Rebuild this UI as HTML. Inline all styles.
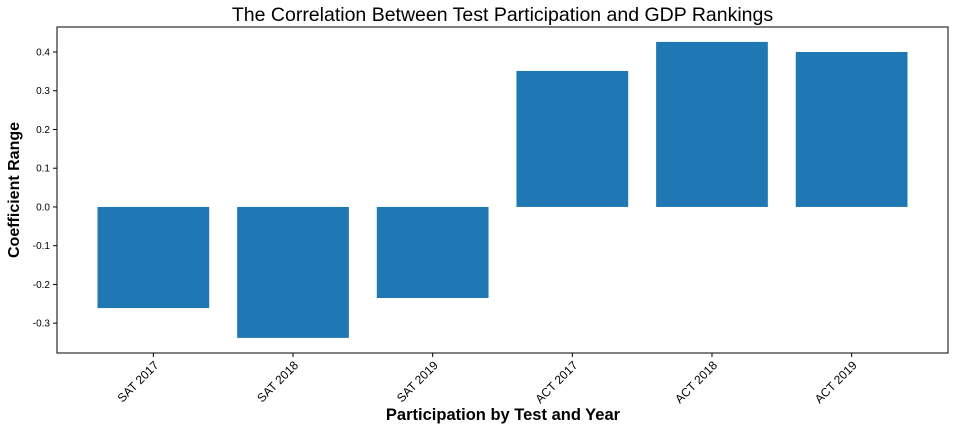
<!DOCTYPE html>
<html><head><meta charset="utf-8"><style>
body{margin:0;background:#fff;}
svg{display:block;font-family:"Liberation Sans","DejaVu Sans",sans-serif;}
</style></head><body>
<svg id="chart" width="956" height="430"></svg>
<script>
const categories=["SAT 2017","SAT 2018","SAT 2019","ACT 2017","ACT 2018","ACT 2019"];
const values=[-0.261,-0.338,-0.235,0.351,0.426,0.400];
const yTicks=[-0.3,-0.2,-0.1,0.0,0.1,0.2,0.3,0.4];
const NS="http://www.w3.org/2000/svg";
const svg=document.getElementById('chart');
const L=57,R=948,T=27,B=353;
const yMin=-0.377,yMax=0.4645,xMin=-0.69,xMax=5.69;
const ys=v=>B-(v-yMin)/(yMax-yMin)*(B-T);
const xs=i=>L+(i-xMin)/(xMax-xMin)*(R-L);
function mk(tag,attrs,parent){const e=document.createElementNS(NS,tag);for(const k in attrs)e.setAttribute(k,attrs[k]);(parent||svg).appendChild(e);return e;}
const bw=(xs(0.8)-xs(0));
values.forEach((v,i)=>{
 const y0=ys(0),y1=ys(v);
 const r=mk('rect',{x:xs(i)-bw/2,y:Math.min(y0,y1),width:bw,height:Math.abs(y1-y0),fill:'#1f77b4'});
 
 
});
mk('rect',{x:L,y:T,width:R-L,height:B-T,fill:'none',stroke:'#000','stroke-width':1});
yTicks.forEach(t=>{
 const y=ys(t);
 mk('line',{x1:L-4,x2:L,y1:y,y2:y,stroke:'#000'});
 const tx=mk('text',{x:L-7,y:y+3.5,'text-anchor':'end','font-size':10});
 tx.textContent=t.toFixed(1);
 
 
});
categories.forEach((c,i)=>{
 const x=xs(i);
 mk('line',{x1:x,x2:x,y1:B,y2:B+4,stroke:'#000'});
 const tx=mk('text',{x:x+6,y:B+13,'text-anchor':'end','font-size':12,transform:`rotate(-45 ${x+6} ${B+13})`});
 tx.textContent=c;
 
 
});
const title=mk('text',{x:(L+R)/2,y:21,'text-anchor':'middle','font-size':19.5});
title.textContent="The Correlation Between Test Participation and GDP Rankings";


const xt=mk('text',{x:503,y:420,'text-anchor':'middle','font-size':16.5,'font-weight':'bold'});
xt.textContent="Participation by Test and Year";


const yt=mk('text',{x:19,y:190,'text-anchor':'middle','font-size':16,'font-weight':'bold',transform:`rotate(-90 19 190)`});
yt.textContent="Coefficient Range";


</script>
</body></html>
